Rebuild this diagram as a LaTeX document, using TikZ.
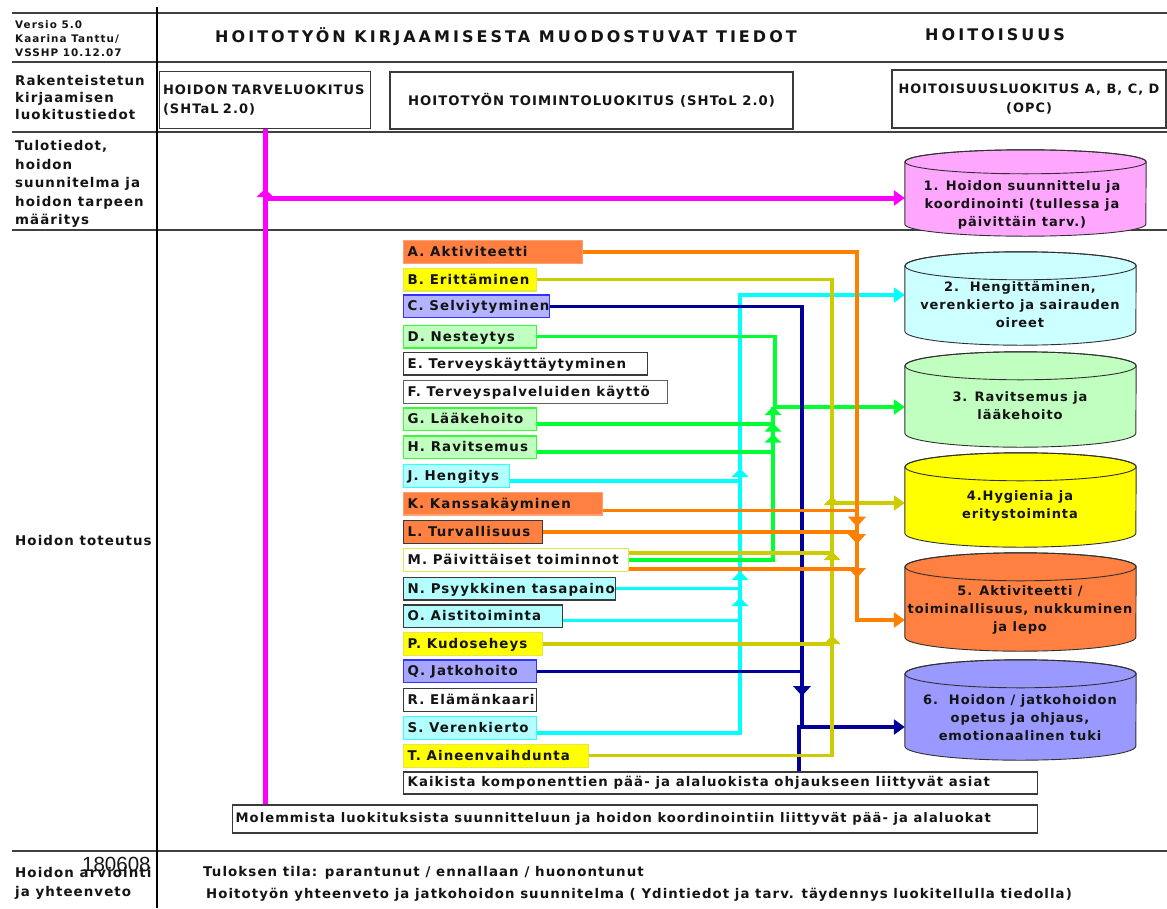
\documentclass[tikz,border=0pt]{standalone}
\usepackage{fontspec}
\setmainfont{DejaVu Sans}[LetterSpace=8]
\newfontfamily\cylfont{DejaVu Sans}[LetterSpace=7]
\newfontfamily\titlefont{DejaVu Sans}[LetterSpace=19]
\newfontfamily\smallfont{DejaVu Sans}[LetterSpace=10]
\newfontfamily\numfont{Liberation Sans}
\usetikzlibrary{arrows.meta}
\definecolor{txt}{HTML}{141414}
\definecolor{rule}{HTML}{404040}
\definecolor{bline}{HTML}{3A3A3A}
\definecolor{orF}{HTML}{FF8040}
\definecolor{orB}{HTML}{FFA070}
\definecolor{yeF}{HTML}{FFFF00}
\definecolor{yeB}{HTML}{E6E650}
\definecolor{lvF}{HTML}{B3B3FF}
\definecolor{lvFb}{HTML}{A6A6FF}
\definecolor{lvB}{HTML}{3333FF}
\definecolor{grF}{HTML}{C0FFC0}
\definecolor{grB}{HTML}{33FF33}
\definecolor{cyF}{HTML}{B3FFFF}
\definecolor{cyB}{HTML}{33FFFF}
\definecolor{cOr}{HTML}{FF8000}
\definecolor{cOl}{HTML}{CCCC00}
\definecolor{cNv}{HTML}{000099}
\definecolor{cCy}{HTML}{00FFFF}
\definecolor{cGr}{HTML}{00FF33}
\definecolor{cMg}{HTML}{FF00FF}
\definecolor{cylA}{HTML}{FFA6FF}
\definecolor{cylB}{HTML}{CCFFFF}
\definecolor{cylC}{HTML}{C0FFC0}
\definecolor{cylD}{HTML}{FFFF00}
\definecolor{cylE}{HTML}{FF8040}
\definecolor{cylF}{HTML}{9999FF}
\definecolor{cylline}{HTML}{303030}
% cylinder body around a named node: name, fill, x radius, y radius
\newcommand\cylbody[4]{%
  \path[fill=#2, draw=cylline, line width=0.9pt]
    ([yshift=-#4]#1.north west) -- ([yshift=#4]#1.south west)
    arc[start angle=180, end angle=360, x radius=#3, y radius=#4]
    -- ([yshift=-#4]#1.north east)
    arc[start angle=0, end angle=180, x radius=#3, y radius=#4] -- cycle;
  \draw[cylline, line width=0.9pt] ([yshift=-#4]#1.north) ellipse[x radius=#3, y radius=#4];}
% flow markers: colour, x, base y
\newcommand\mkup[3]{\fill[#1] (#2,#3) ++(-8.5pt,0pt) -- ++(8.5pt,8.5pt) -- ++(8.5pt,-8.5pt) -- cycle;}
\newcommand\mkdn[3]{\fill[#1] (#2,#3) ++(-9pt,0pt) -- ++(9pt,-10pt) -- ++(9pt,10pt) -- cycle;}
% fixed-width, left-aligned, single-line box content
\newcommand\itbox[2]{\makebox[#1][l]{#2}}
\begin{document}
\begin{tikzpicture}[x=1pt,y=-1pt,
  every node/.style={text=txt},
  basefont/.style={font=\bfseries\fontsize{13.4}{18}\selectfont},
  lbl/.style={basefont, anchor=west, align=left, inner sep=0pt},
  hbox/.style={basefont, draw=bline, line width=1.3pt, inner sep=0pt},
  item/.style={basefont, anchor=west, inner xsep=4pt, inner ysep=0pt,
    minimum height=22.7pt, text height=10.5pt, text depth=1.5pt, line width=1.3pt},
  cylnode/.style={inner sep=0pt, draw=none},
  cyltxt/.style={font=\cylfont\bfseries\fontsize{13}{18}\selectfont, align=center, inner sep=0pt},
  conn/.style={line width=3.3pt},
  gconn/.style={line width=3.9pt},
  endtip/.style={-{Triangle[width=15pt,length=11pt]}},
  titlef/.style={font=\titlefont\bfseries\fontsize{16}{18}\selectfont, anchor=west, inner sep=0pt}
]
\useasboundingbox (0,0) rectangle (1167,908);
% grid
\foreach \yy in {13.3,61.7,132,230,851} \draw[rule, line width=1.8pt] (12,\yy) -- (1167,\yy);
\draw[black, line width=1.2pt] (157,7) -- (157,908);

% header texts
\node[lbl, font=\smallfont\bfseries\fontsize{10.4}{13.7}\selectfont] (ver) at (15,38.5) {Versio 5.0\\Kaarina Tanttu/\\VSSHP 10.12.07};
\node[titlef] (title) at (215,37) {HOITOTYÖN KIRJAAMISESTA MUODOSTUVAT TIEDOT};
\node[titlef] (hoit) at (925,35) {HOITOISUUS};

% left column labels
\node[lbl, font=\bfseries\fontsize{13.4}{17}\selectfont] (rak) at (15,98) {Rakenteistetun\\kirjaamisen\\luokitustiedot};
\node[lbl, font=\bfseries\fontsize{13.4}{18.5}\selectfont] (tulo) at (15,184) {Tulotiedot,\\hoidon\\suunnitelma ja\\hoidon tarpeen\\määritys};
\node[lbl] (tot) at (15,540) {Hoidon toteutus};
\node[lbl, font=\bfseries\fontsize{13.4}{19.5}\selectfont] (arv) at (15,883.5) {Hoidon arviointi\\ja yhteenveto};
\node[anchor=west, inner sep=0pt, font=\numfont\fontsize{20.5}{22}\selectfont] (num) at (82,864) {180608};

% classification boxes
\node[hbox, text width=204pt, inner xsep=3.7pt, minimum height=56.6pt, align=left, font=\bfseries\fontsize{13}{19}\selectfont] (tarve) at (265,100) {HOIDON TARVELUOKITUS\\(SHTaL 2.0)};
\node[hbox, minimum width=403pt, minimum height=57pt, font=\bfseries\fontsize{13.2}{18}\selectfont] (toimi) at (591.5,100.5) {HOITOTYÖN TOIMINTOLUOKITUS (SHToL 2.0)};
\node[hbox, minimum width=274pt, minimum height=58pt, align=center, font=\bfseries\fontsize{12.9}{19}\selectfont] (opc) at (1029,99) {HOITOISUUSLUOKITUS A, B, C, D\\(OPC)};

% items
\node[item, fill=orF, draw=orB] (A) at (403,252) {\itbox{171pt}{A. Aktiviteetti}};
\node[item, fill=yeF, draw=yeB] (B) at (403,279.7) {\itbox{125pt}{B. Erittäminen}};
\node[item, fill=lvF, draw=lvB] (C) at (403,306.3) {\itbox{138pt}{C. Selviytyminen}};
\node[item, fill=grF, draw=grB] (D) at (403,336.5) {\itbox{125pt}{D. Nesteytys}};
\node[item, fill=white, draw=bline] (E) at (403,363.7) {\itbox{236pt}{E. Terveyskäyttäytyminen}};
\node[item, fill=white, draw=bline!80] (F) at (403,392) {\itbox{256pt}{F. Terveyspalveluiden käyttö}};
\node[item, fill=grF, draw=grB] (G) at (403,419.3) {\itbox{125pt}{G. Lääkehoito}};
\node[item, fill=grF, draw=grB] (H) at (403,447.3) {\itbox{125pt}{H. Ravitsemus}};
\node[item, fill=cyF, draw=cyB] (J) at (403,476) {\itbox{98pt}{J. Hengitys}};
\node[item, fill=orF, draw=orB] (K) at (403,503.7) {\itbox{191pt}{K. Kanssakäyminen}};
\node[item, fill=orF, draw=bline] (L) at (403,532) {\itbox{131pt}{L. Turvallisuus}};
\node[item, fill=white, draw=yeB] (M) at (403,560) {\itbox{217pt}{M. Päivittäiset toiminnot}};
\node[item, fill=cyF, draw=bline] (N) at (403,588.7) {\itbox{204pt}{N. Psyykkinen tasapaino}};
\node[item, fill=cyF, draw=bline] (O) at (403,616.3) {\itbox{151pt}{O. Aistitoiminta}};
\node[item, fill=yeF, draw=yeB] (P) at (403,644) {\itbox{131pt}{P. Kudoseheys}};
\node[item, fill=lvFb, draw=lvB] (Q) at (403,671.3) {\itbox{125pt}{Q. Jatkohoito}};
\node[item, fill=white, draw=bline] (R) at (403,700) {\itbox{125pt}{R. Elämänkaari}};
\node[item, fill=cyF, draw=cyB] (S) at (403,728) {\itbox{125pt}{S. Verenkierto}};
\node[item, fill=yeF, draw=yeB] (T) at (403,755.8) {\itbox{177pt}{T. Aineenvaihdunta}};

% bottom boxes
\node[hbox, anchor=west, inner xsep=4pt, minimum height=22pt, font=\bfseries\fontsize{13.3}{18}\selectfont] (kaik) at (403,783) {\itbox{626pt}{Kaikista komponenttien pää- ja alaluokista ohjaukseen liittyvät asiat}};
\node[hbox, anchor=west, inner xsep=3pt, minimum height=28pt, font=\bfseries\fontsize{13.1}{18}\selectfont] (molem) at (232,819) {\itbox{799pt}{Molemmista luokituksista suunnitteluun ja hoidon koordinointiin liittyvät pää- ja alaluokat}};

% evaluation texts
\node[lbl] (tul) at (203,873) {Tuloksen tila: parantunut / ennallaan / huonontunut};
\node[lbl, font=\bfseries\fontsize{13.3}{18}\selectfont] (yht) at (206,895) {Hoitotyön yhteenveto ja jatkohoidon suunnitelma ( Ydintiedot ja tarv. täydennys luokitellulla tiedolla)};

% cylinder frames (invisible nodes)
\node[cylnode, minimum width=241pt, minimum height=86pt] (cyl1) at (1025.5,193) {};
\node[cylnode, minimum width=231pt, minimum height=93pt] (cyl2) at (1020.5,298.5) {};
\node[cylnode, minimum width=231pt, minimum height=95pt] (cyl3) at (1020.5,399.5) {};
\node[cylnode, minimum width=231pt, minimum height=94pt] (cyl4) at (1020.5,500) {};
\node[cylnode, minimum width=231pt, minimum height=98pt] (cyl5) at (1020.5,602) {};
\node[cylnode, minimum width=231pt, minimum height=100pt] (cyl6) at (1020.5,710) {};

% ---- connectors ----
% magenta
\coordinate (mj) at (265,198);
\draw[cMg, line width=5pt] (tarve.south) -- (tarve.south |- molem.north);
\draw[cMg, line width=5pt, endtip] (mj) -- (cyl1.west |- mj);
\fill[cMg] (265,197) ++(-8.5pt,0pt) -- ++(8.5pt,8pt) -- ++(8.5pt,-8pt) -- cycle;

% cyan
\coordinate (cx) at (740,295);
\coordinate (sC) at ([yshift=-5pt]S.east);
\coordinate (jC) at ([yshift=-5pt]J.east);
\coordinate (oC) at ([yshift=-4.5pt]O.east);
\draw[cCy, conn, endtip] (sC) -| (cx) -- (cyl2.west |- cx);
\draw[cCy, conn] (jC) -- (jC -| cx);
\draw[cCy, conn] (N.east) -- (N.east -| cx);
\draw[cCy, conn] (oC) -- (oC -| cx);
\mkup{cCy}{740}{477}
\mkup{cCy}{740}{580}
\mkup{cCy}{740}{606}

% green
\coordinate (gx) at (775,407);
\coordinate (g2) at (773,407);
\coordinate (gC) at ([yshift=-5pt]G.east);
\coordinate (hC) at ([yshift=-4.5pt]H.east);
\draw[cGr, gconn, endtip] (D.east) -| (gx) -- (cyl3.west |- gx);
\draw[cGr, gconn] (M.east) -| (g2);
\draw[cGr, gconn] (gC) -- (gC -| g2);
\draw[cGr, gconn] (hC) -- (hC -| g2);
\mkup{cGr}{773}{415}
\mkup{cGr}{773}{431.7}
\mkup{cGr}{773}{442.7}

% navy
\coordinate (n6) at (802,728);
\coordinate (n6b) at (799,727);
\draw[cNv, conn] (C.east) -| (n6);
\draw[cNv, conn] (Q.east) -- (Q.east -| n6);
\draw[cNv, conn, endtip] (kaik.north -| n6b) -- (n6b) -- (cyl6.west |- n6b);
\mkdn{cNv}{802}{686}

% olive
\coordinate (y4) at (832,503);
\coordinate (mY) at ([yshift=7pt]M.east);
\draw[cOl, conn] (B.east) -| (y4 |- T.east) -- (T.east);
\draw[cOl, conn, endtip] (y4) -- (cyl4.west |- y4);
\draw[cOl, conn] (mY) -- (mY -| y4);
\draw[cOl, conn] (P.east) -- (P.east -| y4);
\mkup{cOl}{832}{505}
\mkup{cOl}{832}{560}
\mkup{cOl}{832}{644}

% orange
\coordinate (o5) at (857,620);
\coordinate (kO) at ([yshift=-7pt]K.east);
\coordinate (mO) at ([yshift=-9pt]M.east);
\draw[cOr, conn, endtip] (A.east) -| (o5) -- (cyl5.west |- o5);
\draw[cOr, conn] (kO) -- (kO -| o5);
\draw[cOr, conn] (L.east) -- (L.east -| o5);
\draw[cOr, conn] (mO) -- (mO -| o5);
\mkdn{cOr}{857}{516.7}
\mkdn{cOr}{857}{534}
\mkdn{cOr}{857}{568}

% cylinders
\cylbody{cyl1}{cylA}{120.5pt}{12pt}
\cylbody{cyl2}{cylB}{115.5pt}{14pt}
\cylbody{cyl3}{cylC}{115.5pt}{14pt}
\cylbody{cyl4}{cylD}{115.5pt}{14pt}
\cylbody{cyl5}{cylE}{115.5pt}{14pt}
\cylbody{cyl6}{cylF}{115.5pt}{14pt}
\node[cyltxt] (t1) at (1022,204.5) {1. Hoidon suunnittelu ja\\koordinointi (tullessa ja\\päivittäin tarv.)};
\node[cyltxt] (t2) at (1020,305) {2.\ \ Hengittäminen,\\verenkierto ja sairauden\\oireet};
\node[cyltxt] (t3) at (1020,406) {3. Ravitsemus ja\\lääkehoito};
\node[cyltxt] (t4) at (1020,506) {4.Hygienia ja\\eritystoiminta};
\node[cyltxt] (t5) at (1020,609.5) {5. Aktiviteetti /\\toiminallisuus, nukkuminen\\ja lepo};
\node[cyltxt] (t6) at (1020,717.5) {6.\ \ Hoidon / jatkohoidon\\opetus ja ohjaus,\\emotionaalinen tuki};
\end{tikzpicture}
\end{document}
